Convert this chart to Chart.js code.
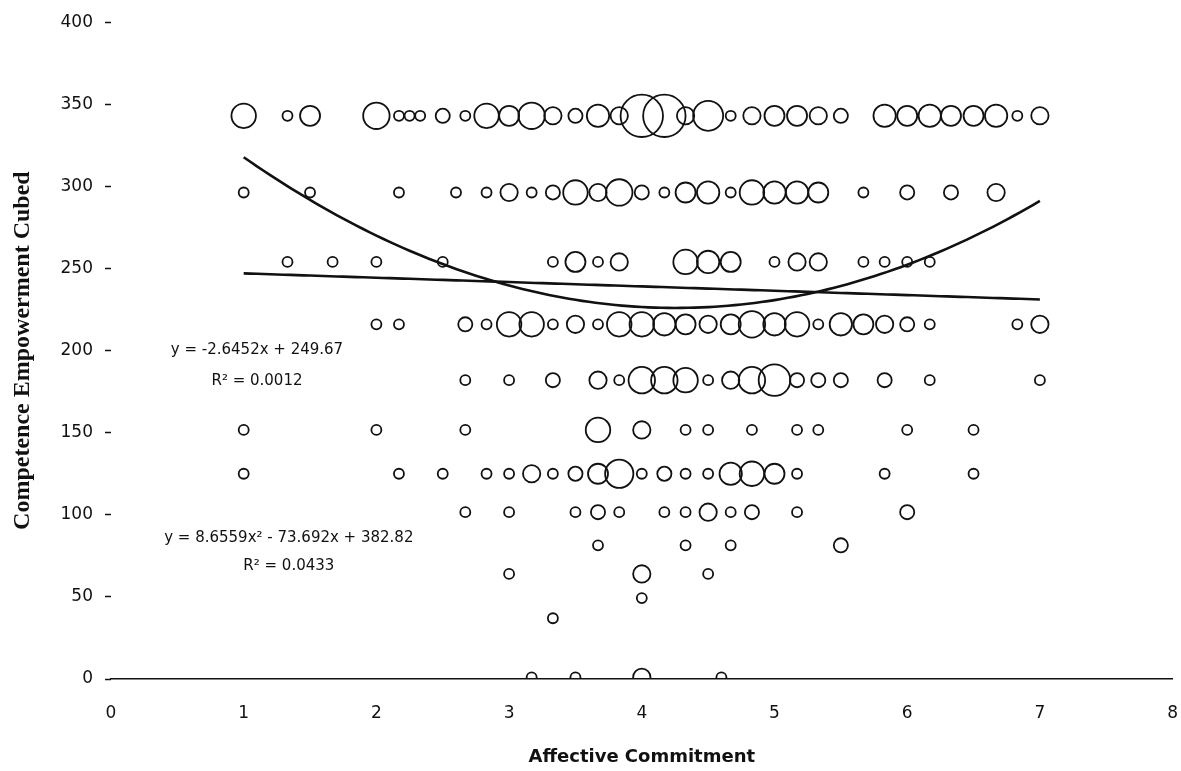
<!DOCTYPE html>
<html>
<head>
<meta charset="utf-8">
<title>Affective Commitment vs Competence Empowerment</title>
<script src="https://cdn.jsdelivr.net/npm/chart.js@4"></script>
<style>
  body { margin: 0; background: #fff; }
  canvas { display: block; }
</style>
</head>
<body>
<canvas id="chart" width="1181" height="771"></canvas>
<script>
// competence empowerment levels (cubed), one row of bubbles for each
const levels = [343, 296.3, 254, 216, 182, 151.7, 125, 101.6, 81.4, 64, 49.3, 37, 1]

// affective commitment scores on each level (x) and how many people had them (n)
const x343 = [1, 1.33, 1.5, 2, 2.17, 2.25, 2.33, 2.5, 2.67, 2.83, 3, 3.17, 3.33, 3.5, 3.67, 3.83, 4, 4.17, 4.33, 4.5, 4.67, 4.83, 5, 5.17, 5.33, 5.5, 5.83, 6, 6.17, 6.33, 6.5, 6.67, 6.83, 7]
const n343 = [6, 1, 4, 7, 1, 1, 1, 2, 1, 6, 4, 7, 3, 2, 5, 3, 18, 18, 3, 9, 1, 3, 4, 4, 3, 2, 5, 4, 5, 4, 4, 5, 1, 3]

const x296 = [1, 1.5, 2.17, 2.6, 2.83, 3, 3.17, 3.33, 3.5, 3.67, 3.83, 4, 4.17, 4.33, 4.5, 4.67, 4.83, 5, 5.17, 5.33, 5.67, 6, 6.33, 6.67]
const n296 = [1, 1, 1, 1, 1, 3, 1, 2, 6, 3, 7, 2, 1, 4, 5, 1, 6, 5, 5, 4, 1, 2, 2, 3]

const x254 = [1.33, 1.67, 2, 2.5, 3.33, 3.5, 3.67, 3.83, 4.33, 4.5, 4.67, 5, 5.17, 5.33, 5.67, 5.83, 6, 6.17]
const n254 = [1, 1, 1, 1, 1, 4, 1, 3, 6, 5, 4, 1, 3, 3, 1, 1, 1, 1]

const x216 = [2, 2.17, 2.67, 2.83, 3, 3.17, 3.33, 3.5, 3.67, 3.83, 4, 4.17, 4.33, 4.5, 4.67, 4.83, 5, 5.17, 5.33, 5.5, 5.67, 5.83, 6, 6.17, 6.83, 7]
const n216 = [1, 1, 2, 1, 6, 6, 1, 3, 1, 6, 6, 5, 4, 3, 4, 7, 5, 6, 1, 5, 4, 3, 2, 1, 1, 3]

const x182 = [2.67, 3, 3.33, 3.67, 3.83, 4, 4.17, 4.33, 4.5, 4.67, 4.83, 5, 5.17, 5.33, 5.5, 5.83, 6.17, 7]
const n182 = [1, 1, 2, 3, 1, 7, 7, 6, 1, 3, 7, 10, 2, 2, 2, 2, 1, 1]

const x152 = [1, 2, 2.67, 3.67, 4, 4.33, 4.5, 4.83, 5.17, 5.33, 6, 6.5]
const n152 = [1, 1, 1, 6, 3, 1, 1, 1, 1, 1, 1, 1]

const x125 = [1, 2.17, 2.5, 2.83, 3, 3.17, 3.33, 3.5, 3.67, 3.83, 4, 4.17, 4.33, 4.5, 4.67, 4.83, 5, 5.17, 5.83, 6.5]
const n125 = [1, 1, 1, 1, 1, 3, 1, 2, 4, 8, 1, 2, 1, 1, 5, 6, 4, 1, 1, 1]

const x102 = [2.67, 3, 3.5, 3.67, 3.83, 4.17, 4.33, 4.5, 4.67, 4.83, 5.17, 6]
const n102 = [1, 1, 1, 2, 1, 1, 1, 3, 1, 2, 1, 2]

const x81 = [3.67, 4.33, 4.67, 5.5]
const n81 = [1, 1, 1, 2]

const x64 = [3, 4, 4.5]
const n64 = [1, 3, 1]

const x49 = [4]
const n49 = [1]

const x37 = [3.33]
const n37 = [1]

const x1 = [3.17, 3.5, 4, 4.6]
const n1 = [1, 1, 3, 1]

const rowsX = [x343, x296, x254, x216, x182, x152, x125, x102, x81, x64, x49, x37, x1]
const rowsN = [n343, n296, n254, n216, n182, n152, n125, n102, n81, n64, n49, n37, n1]

// trendlines as printed on the chart
const linearFit = [249.67, -2.6452]          // a + b x
const quadFit = [382.82, -73.692, 8.6559]    // a + b x + c x^2
const fitRange = [1, 7]
const linearText = ['y = -2.6452x + 249.67', 'R² = 0.0012']
const quadText = ['y = 8.6559x² - 73.692x + 382.82', 'R² = 0.0433']

const yTicks = [0, 50, 100, 150, 200, 250, 300, 350, 400]

// build bubble points
let bubbles = []
levels.forEach((lvl, i) => {
  rowsX[i].forEach((x, j) => {
    bubbles.push({ x: x, y: lvl, r: 5 * Math.sqrt(rowsN[i][j]) })
  })
})

// trendline curves from the printed equations
function fitLine(c) {
  let pts = []
  for (let x = fitRange[0]; x <= fitRange[1] + 1e-9; x += 0.05) {
    let y = 0
    c.forEach((k, p) => { y += k * Math.pow(x, p) })
    pts.push({ x: x, y: y })
  }
  return pts
}

const ink = '#111'

// equation labels
const equationLabels = {
  id: 'equationLabels',
  afterDraw(chart) {
    const ctx = chart.ctx
    const sx = chart.scales.x
    const sy = chart.scales.y
    ctx.save()
    ctx.fillStyle = ink
    ctx.textAlign = 'center'
    ctx.textBaseline = 'middle'
    ctx.font = '15px "DejaVu Sans"'
    ctx.fillText(linearText[0], sx.getPixelForValue(1.1), sy.getPixelForValue(200))
    ctx.fillText(linearText[1], sx.getPixelForValue(1.1), sy.getPixelForValue(181.5))
    ctx.fillText(quadText[0], sx.getPixelForValue(1.34), sy.getPixelForValue(85.6))
    ctx.fillText(quadText[1], sx.getPixelForValue(1.34), sy.getPixelForValue(68.6))
    ctx.restore()
  }
}

new Chart(document.getElementById('chart'), {
  type: 'bubble',
  data: {
    datasets: [
      {
        type: 'line',
        data: fitLine(linearFit),
        borderColor: ink,
        borderWidth: 2.6,
        pointRadius: 0,
        tension: 0
      },
      {
        type: 'line',
        data: fitLine(quadFit),
        borderColor: ink,
        borderWidth: 2.6,
        pointRadius: 0,
        tension: 0
      },
      {
        data: bubbles,
        borderColor: ink,
        borderWidth: 1.8,
        backgroundColor: 'rgba(0,0,0,0)',
        clip: { left: false, top: false, right: false, bottom: 0 }
      }
    ]
  },
  options: {
    responsive: false,
    devicePixelRatio: 1,
    animation: false,
    layout: { autoPadding: false, padding: { top: 20, right: 0, left: 0, bottom: 0 } },
    plugins: {
      legend: { display: false },
      tooltip: { enabled: false }
    },
    scales: {
      x: {
        type: 'linear',
        min: 0,
        max: 8,
        ticks: { stepSize: 1, color: ink, padding: 3, font: { family: 'DejaVu Sans', size: 17 } },
        // invisible tick marks only push the labels down
        grid: { drawOnChartArea: false, drawTicks: true, tickLength: 21, tickColor: 'rgba(0,0,0,0)' },
        border: { display: true, color: ink, width: 1.6 },
        title: {
          display: true,
          text: 'Affective Commitment',
          color: ink,
          font: { family: 'DejaVu Sans', size: 18, weight: 'bold', lineHeight: 1 },
          padding: { top: 0, bottom: 5 }
        },
        afterFit(scale) { scale.height = 92 }
      },
      y: {
        type: 'linear',
        min: 0,
        max: 400,
        afterBuildTicks(scale) { scale.ticks = yTicks.map(v => ({ value: v })) },
        ticks: { color: ink, padding: 12, font: { family: 'DejaVu Sans', size: 17 } },
        grid: { drawOnChartArea: false, drawTicks: true, tickLength: 6, tickColor: ink, tickWidth: 1.5 },
        border: { display: false },
        title: {
          display: true,
          text: 'Competence Empowerment Cubed',
          color: ink,
          font: { family: 'Liberation Serif', size: 24, weight: 'bold', lineHeight: 1 },
          padding: { top: 11, bottom: 0 }
        },
        afterFit(scale) { scale.width = 111 }
      }
    }
  },
  plugins: [equationLabels]
})
</script>
</body>
</html>
